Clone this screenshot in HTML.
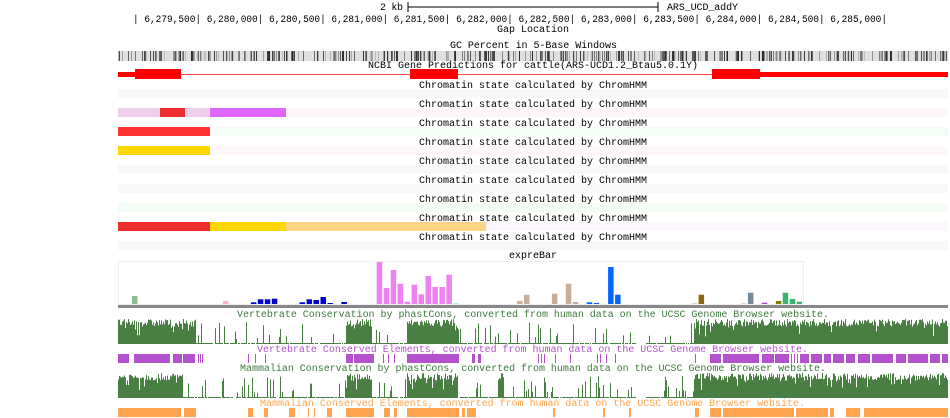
<!DOCTYPE html>
<html><head><meta charset="utf-8"><style>
html,body{margin:0;padding:0;background:#fff;width:950px;height:418px;overflow:hidden}
svg{display:block}
text{font-family:"Liberation Mono",monospace;font-size:10px}
</style></head><body>
<svg id="s" width="950" height="418" xmlns="http://www.w3.org/2000/svg">
<g id="g"></g>
<text x="380" y="10" textLength="23">2 kb</text>
<line x1="408" y1="7" x2="658" y2="7" stroke="#000"/>
<line x1="408" y1="2" x2="408" y2="12" stroke="#000"/>
<line x1="658" y1="2" x2="658" y2="12" stroke="#000"/>
<text x="667" y="10" textLength="71">ARS_UCD_addY</text>
<text x="133" y="22" textLength="754" lengthAdjust="spacingAndGlyphs">| 6,279,500| 6,280,000| 6,280,500| 6,281,000| 6,281,500| 6,282,000| 6,282,500| 6,283,000| 6,283,500| 6,284,000| 6,284,500| 6,285,000|</text>
<text x="497" y="32" textLength="72">Gap Location</text>
<text x="450" y="48" textLength="167">GC Percent in 5-Base Windows</text>
<text x="368" y="68" textLength="330">NCBI Gene Predictions for cattle(ARS-UCD1.2_Btau5.0.1Y)</text>
<line x1="181" y1="74.5" x2="712" y2="74.5" stroke="#f44" stroke-width="1"/>
<rect x="118" y="72" width="17" height="5" fill="#f00"/>
<rect x="135" y="69" width="46" height="10" fill="#f00"/>
<rect x="410" y="69" width="48" height="10" fill="#f00"/>
<rect x="712" y="69" width="48" height="10" fill="#f00"/>
<rect x="760" y="72" width="188" height="5" fill="#f00"/>
<text x="509" y="258">expreBar</text>
<rect x="118.5" y="261.5" width="685" height="43" fill="none" stroke="#eee"/>
<rect x="118" y="305" width="830" height="3" fill="#888"/>
<text x="237" y="317" fill="#3d7a3d" textLength="592">Vertebrate Conservation by phastCons, converted from human data on the UCSC Genome Browser website.</text>
<text x="257" y="352" fill="#b452cd" textLength="551">Vertebrate Conserved Elements, converted from human data on the UCSC Genome Browser website.</text>
<text x="240" y="371" fill="#3d7a3d" textLength="586">Mammalian Conservation by phastCons, converted from human data on the UCSC Genome Browser website.</text>
<text x="260" y="406" fill="#ffa54f" textLength="545">Mammalian Conserved Elements, converted from human data on the UCSC Genome Browser website.</text>
</svg>
<script>
var g=document.getElementById('g'),NS="http://www.w3.org/2000/svg";
function R(x,y,w,h,c){var r=document.createElementNS(NS,'rect');r.setAttribute('x',x);r.setAttribute('y',y);r.setAttribute('width',w);r.setAttribute('height',h);r.setAttribute('fill',c);g.appendChild(r);}
function T(x,y,s,len){var t=document.createElementNS(NS,'text');t.setAttribute('x',x);t.setAttribute('y',y);t.setAttribute('textLength',len);t.textContent=s;document.getElementById('s').appendChild(t);}
var seed=7;function rnd(){seed=(seed*16807)%2147483647;return seed/2147483647;}
R(118,51,830,10,'#e0e0e0');
for(var x=118;x<948;x++){var v=rnd();if(v<0.45){var l=Math.floor(40+rnd()*160);R(x,51,1,10,'rgb('+l+','+l+','+l+')');}}
var rows=[
 [['#f8f8f8',118,948]],
 [['#eecfec',118,160],['#ee2e2e',160,185],['#eecfec',185,210],['#e066ff',210,286],['#fdf7fa',286,948]],
 [['#ff3333',118,210],['#f3fcf5',210,948]],
 [['#ffd700',118,210],['#fdf7fa',210,948]],
 [['#f8f8f8',118,948]],
 [['#f8f8f8',118,948]],
 [['#f3fcf5',118,948]],
 [['#ee2e2e',118,210],['#ffd700',210,286],['#ffd583',286,486],['#fcf7fc',486,948]],
 [['#f8f8f8',118,948]]];
for(var i=0;i<9;i++){var y=89+19*i;rows[i].forEach(function(s){R(s[1],y,s[2]-s[1],9,s[0]);});}
for(var i=0;i<9;i++)T(419,88+19*i,'Chromatin state calculated by ChromHMM',228);
var bars=[[41,138,'#8fbc8f'],[211,153,'#ffb6c1'],
[237,162,'#0000cc'],[250,162,'#0000cc'],[263,157,'#0000cc'],[276,148,'#0000cc'],[289,148,'#0000cc'],[302,146,'#0000cc'],[315,162,'#0000cc'],[328,162,'#0000cc'],[341,162,'#0000cc'],[354,157,'#0000cc'],[367,148,'#0000cc'],[380,150,'#0000cc'],[393,141,'#0000cc'],[406,159,'#0000cc'],[419,162,'#0000cc'],[432,156,'#0000cc'],[445,162,'#0000cc'],
[458,162,'#eeee00'],[485,162,'#eeee00'],
[498,33,'#ee82ee'],[511,114,'#ee82ee'],[524,60,'#ee82ee'],[537,101,'#ee82ee'],[550,155,'#ee82ee'],[563,104,'#ee82ee'],[576,133,'#ee82ee'],[589,78,'#ee82ee'],[602,111,'#ee82ee'],[615,111,'#ee82ee'],[628,74,'#ee82ee'],[641,161,'#00cdcd'],
[747,162,'#f4a460'],[760,153,'#c8ad98'],[773,134,'#c8ad98'],[825,131,'#c8ad98'],[851,101,'#c8ad98'],[864,156,'#c8ad98'],
[890,157,'#0066ff'],[903,159,'#0066ff'],[930,51,'#0066ff'],[943,134,'#0066ff'],
[1086,161,'#8b6914'],[1099,134,'#8b6914'],[1178,161,'#778899'],[1191,128,'#778899'],[1217,158,'#aa44cc'],[1243,153,'#808000'],[1256,128,'#3cb371'],[1269,147,'#3cb371'],[1282,155,'#3cb371']];
bars.forEach(function(b){var x=110+b[0]/1.867,y=250+b[1]/3;R(x.toFixed(1),y.toFixed(1),5.5,(305-y).toFixed(1),b[2]);});
var dense=[[118,196],[346,372],[407,458],[694,948]];
var dense2=[[118,183],[346,372],[407,458],[498,504],[694,948]];
function wig(y0,h,dn){for(var x=118;x<948;x++){var d=dn.some(function(r){return x>=r[0]&&x<r[1];});var v;
 if(d){v=rnd()<0.08?0.3+rnd()*0.4:0.7+rnd()*0.3;} else {var q=rnd();v=q<0.12?0.2+rnd()*0.7:(q<0.9?0.04:0);}
 if(x>=636&&x<646)v=0; var hh=Math.max(v*h,0);if(hh>0)R(x,y0+h-hh,1,hh,'#4a7f44');}}
wig(319,25,dense);wig(373,25,dense2);
function segs(y,c,list){list.forEach(function(s){R(s[0],y,s[1]-s[0],9,c);});}
segs(354,'#b452cd',[[118,129],[134,170],[173,182],[183,195],[198,199],[200,201],[202,203],[248,249],[255,256],[265,266],[346,353],[354,374],[383,384],[388,389],[394,395],[407,459],[472,475],[478,481],[538,539],[541,542],[544,545],[555,556],[570,571],[597,598],[600,601],[606,607],[615,616],[695,696],[710,721],[723,759],[762,774],[775,789],[791,792],[794,795],[797,798],[800,809],[811,822],[824,831],[833,844],[846,855],[858,870],[872,893],[896,906],[908,928],[930,940],[942,948]]);
segs(408,'#ffa54f',[[118,181],[184,196],[248,253],[264,268],[289,295],[308,309],[314,315],[327,332],[346,374],[384,390],[394,397],[407,459],[462,465],[467,476],[553,555],[603,605],[629,631],[695,699],[710,721],[723,794],[796,828],[830,834],[846,860],[864,948]]);
</script>
</body></html>
